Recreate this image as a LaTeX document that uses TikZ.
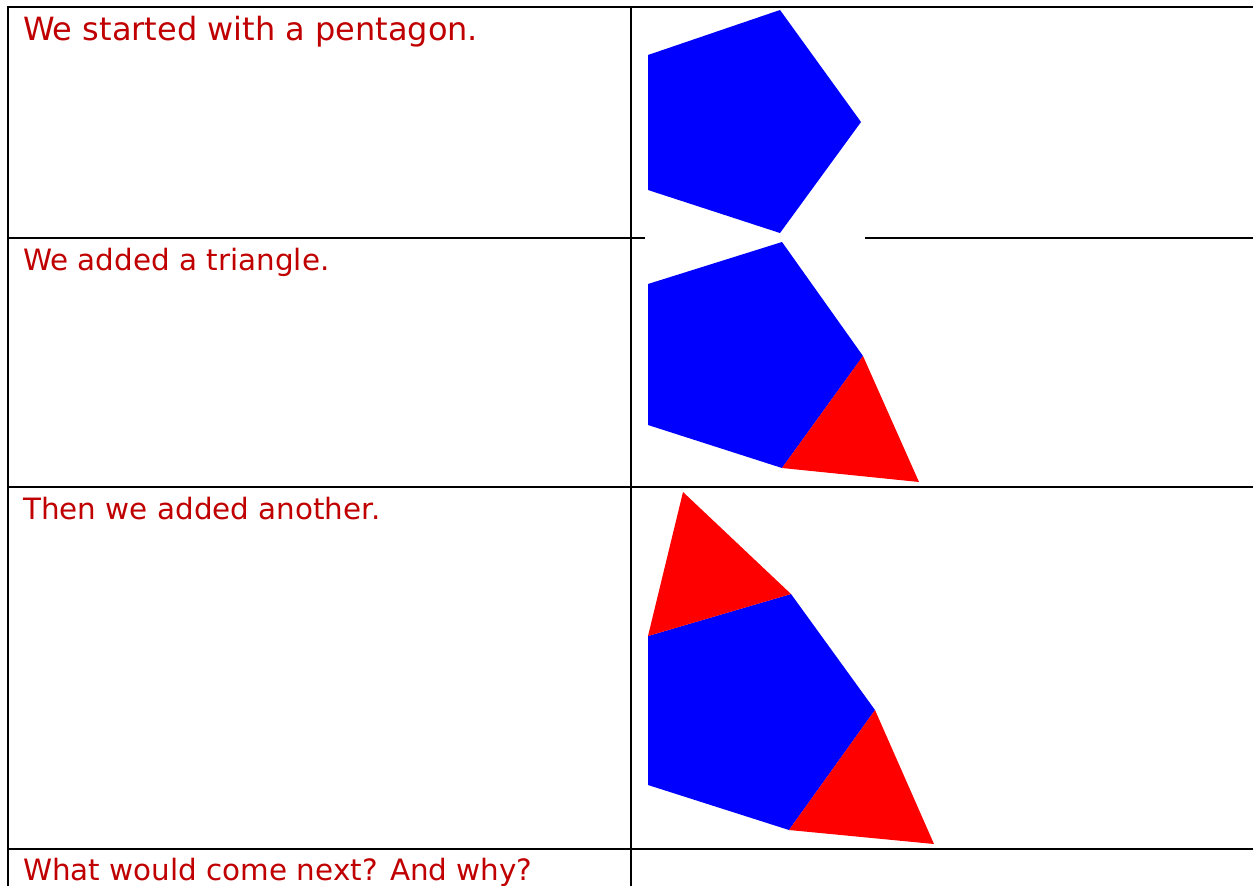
\documentclass[tikz,border=0pt]{standalone}
\usepackage{fontspec}
\setmainfont{DejaVu Sans}
\definecolor{cellred}{HTML}{C00000}
\definecolor{tileblue}{HTML}{0000FF}
\definecolor{tilered}{HTML}{FF0000}

\begin{document}
\begin{tikzpicture}[x=1pt,y=-1pt,font=\fontsize{29.4}{35}\selectfont,
  rule/.style={black,line width=2.6pt},
  thinrule/.style={black,line width=1.4pt},
  caption/.style={anchor=base west,inner sep=0pt,text=cellred}]
  \useasboundingbox (0,0) rectangle (1253,886);
  \fill[white] (0,0) rectangle (1253,886);
  % table frame
  \draw[rule] (1253,7) -- (8,7) -- (8,886);
  \draw[rule] (631,7) -- (631,886);
  \draw[rule] (8,238) -- (645,238) (923,238) -- (1253,238);
  \draw[thinrule] (865,238) -- (923,238);
  \draw[rule] (8,487) -- (1253,487);
  \draw[rule] (8,849) -- (646,849) (940,849) -- (1253,849);
  \draw[thinrule] (646,849) -- (940,849);
  % captions
  \node[caption,font=\fontsize{32}{38}\selectfont] (start) at (23,40) {We started with a pentagon.};
  \node[caption] (added) at (23,270) {We added a triangle.};
  \node[caption] (another) at (23,519) {Then we added another.};
  \node[caption] (next) at (23,880) {What would come next? And why?};
  % row 1
  \fill[tileblue] (648,55) -- (780,10) -- (861,122) -- (780,233) -- (648,190) -- cycle;
  % row 2
  \fill[tileblue] (648,284) -- (782,242) -- (863,356) -- (782,468) -- (648,425) -- cycle;
  \fill[tilered] (863,356) -- (782,468) -- (919,482) -- cycle;
  % row 3
  \fill[tileblue] (648,636) -- (791,594) -- (875,710) -- (789,830) -- (648,785) -- cycle;
  \fill[tilered] (648,636) -- (791,594) -- (683,492) -- cycle;
  \fill[tilered] (875,710) -- (789,830) -- (934,844) -- cycle;
\end{tikzpicture}
\end{document}
